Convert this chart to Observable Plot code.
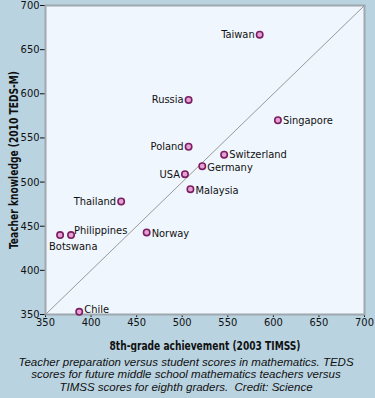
<!DOCTYPE html>
<html>
<head>
<meta charset="utf-8">
<script src="https://cdn.jsdelivr.net/npm/d3@7"></script>
<script src="https://cdn.jsdelivr.net/npm/@observablehq/plot@0.6"></script>
<style>
  html, body { margin: 0; padding: 0; background: #bad3e0; }
  #wrap { width: 375px; height: 398px; background: #bad3e0; position: relative; overflow: hidden; }
  #caption { position: absolute; left: 0; top: 356px; width: 372px; text-align: center;
    font-family: "Liberation Sans", Arial, sans-serif; font-style: italic; font-size: 11.5px;
    line-height: 12.3px; color: #111; }
</style>
</head>
<body>
<div id="wrap"><div id="chart"></div>
<div id="caption">Teacher preparation versus student scores in mathematics. TEDS<br>scores for future middle school mathematics teachers versus<br>TIMSS scores for eighth graders.&nbsp; Credit: Science</div>
</div>
<script>
// Data
const countries = ["Taiwan","Russia","Poland","USA","Malaysia","Germany","Switzerland","Singapore","Thailand","Norway","Philippines","Botswana","Chile"];
const studentScores = [585, 507, 507, 503, 509, 522, 546, 605, 433, 461, 378, 366, 387];
const teacherScores = [667, 593, 540, 509, 492, 518, 531, 570, 478, 443, 440, 440, 353];
const xTicks = [350, 400, 450, 500, 550, 600, 650, 700];
const yTicks = [350, 400, 450, 500, 550, 600, 650, 700];
const parity = [350, 700];

// Label placement (presentation only)
const place = {
  Taiwan: {anchor: "end", dx: -5, dy: 0},
  Russia: {anchor: "end", dx: -5, dy: 0},
  Poland: {anchor: "end", dx: -5, dy: 0},
  USA: {anchor: "end", dx: -5, dy: 0},
  Malaysia: {anchor: "start", dx: 5, dy: 1},
  Germany: {anchor: "start", dx: 5, dy: 1},
  Switzerland: {anchor: "start", dx: 5, dy: 0},
  Singapore: {anchor: "start", dx: 5, dy: 0},
  Thailand: {anchor: "end", dx: -5, dy: 0},
  Norway: {anchor: "start", dx: 5, dy: 1},
  Philippines: {anchor: "start", dx: 3, dy: -5},
  Botswana: {anchor: "start", dx: -11, dy: 11},
  Chile: {anchor: "start", dx: 5, dy: -2}
};

const data = countries.map((c, i) => ({country: c, x: studentScores[i], y: teacherScores[i], ...place[c]}));
const diag = [{x1: parity[0], y1: parity[0], x2: parity[1], y2: parity[1]}];

const font = `"Liberation Sans Narrow", "DejaVu Sans Condensed", sans-serif`;

const groups = d3.group(data, d => d.anchor + "|" + d.dx + "|" + d.dy);
const labelMarks = [...groups.values()].map(g => Plot.text(g, {
  x: "x", y: "y", text: "country",
  textAnchor: g[0].anchor, dx: g[0].dx, dy: g[0].dy,
  fontSize: 11, fill: "#111"
}));

const chart = Plot.plot({
  width: 375,
  height: 352,
  marginLeft: 45,
  marginRight: 11,
  marginTop: 5,
  marginBottom: 38,
  style: {background: "transparent", fontFamily: font, fontSize: "11px", color: "#111"},
  x: {domain: [350, 700], ticks: xTicks, tickSize: 3, tickPadding: 1,
      label: "8th-grade achievement (2003 TIMSS)", labelAnchor: "center", labelArrow: "none", labelOffset: 35},
  y: {domain: [350, 700], ticks: yTicks, tickSize: 5, tickPadding: 1,
      label: "Teacher knowledge (2010 TEDS-M)", labelAnchor: "center", labelArrow: "none", labelOffset: 37},
  marks: [
    Plot.frame({fill: "#eff6fd", stroke: "#9ea8ae", strokeWidth: 2}),
    Plot.link(diag, {x1: "x1", y1: "y1", x2: "x2", y2: "y2", stroke: "#999", strokeWidth: 1}),
    Plot.dot(data, {x: "x", y: "y", r: 3.2, fill: "#e7a0d4", stroke: "#7b1f62", strokeWidth: 1.6}),
    ...labelMarks
  ]
});
const xl = chart.querySelector("g[aria-label='x-axis label'] text");
const yl = chart.querySelector("g[aria-label='y-axis label'] text");
[[xl, 191], [yl, 178]].forEach(([t, len]) => {
  if (!t) return;
  t.style.fontSize = "13px"; t.style.fontWeight = "bold";
  t.setAttribute("textLength", len);
  t.setAttribute("lengthAdjust", "spacingAndGlyphs");
});
document.getElementById("chart").appendChild(chart);
</script>
</body>
</html>
